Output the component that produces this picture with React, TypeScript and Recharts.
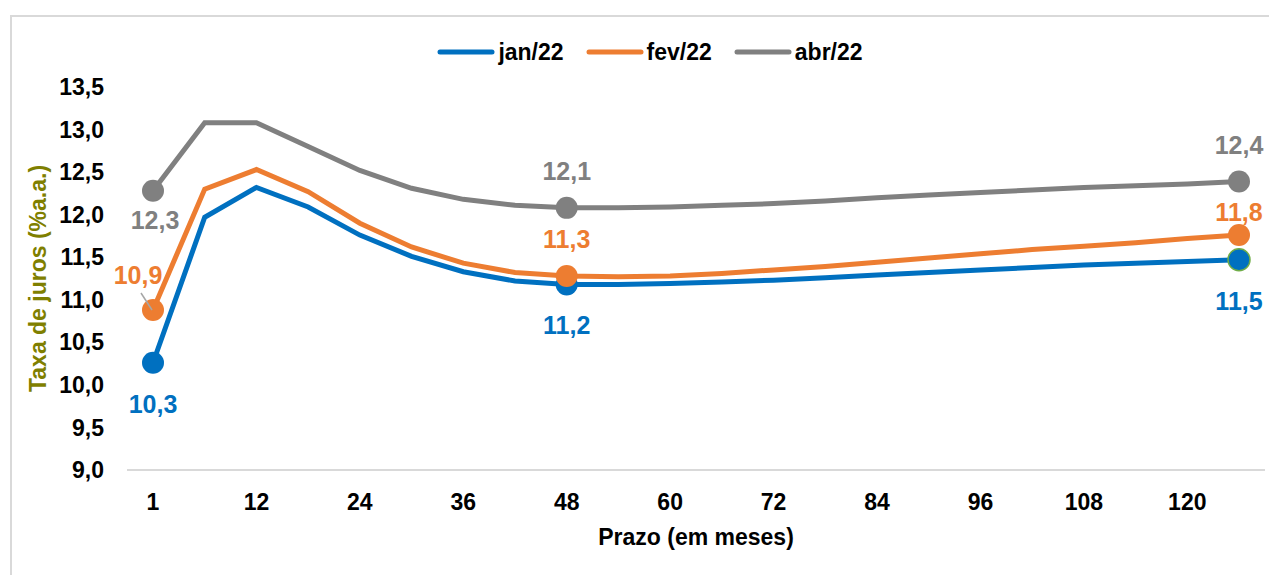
import { LineChart, Line, XAxis, YAxis, Legend, LabelList, Label } from "recharts";

// prazo em meses (um ponto a cada 6 meses, rótulo a cada 12)
const prazos = [
  "1", "6", "12", "18", "24", "30", "36", "42", "48", "54", "60",
  "66", "72", "78", "84", "90", "96", "102", "108", "114", "120", "126",
];

const jan22 = [
  10.26, 11.97, 12.32, 12.09, 11.76, 11.51, 11.33, 11.22, 11.18, 11.18, 11.19,
  11.21, 11.23, 11.26, 11.29, 11.32, 11.35, 11.38, 11.41, 11.43, 11.45, 11.47,
];
const fev22 = [
  10.88, 12.3, 12.53, 12.27, 11.9, 11.62, 11.43, 11.32, 11.28, 11.27, 11.28,
  11.31, 11.35, 11.39, 11.44, 11.49, 11.54, 11.59, 11.63, 11.67, 11.72, 11.76,
];
const abr22 = [
  12.28, 13.08, 13.08, 12.8, 12.52, 12.31, 12.18, 12.11, 12.08, 12.08, 12.09,
  12.11, 12.13, 12.16, 12.2, 12.23, 12.26, 12.29, 12.32, 12.34, 12.36, 12.39,
];

const yTicks = [9, 9.5, 10, 10.5, 11, 11.5, 12, 12.5, 13, 13.5];
const pontosDestacados = [0, 8, 21];

const AZUL = "#0070C0";
const LARANJA = "#ED7D31";
const CINZA = "#808080";
const FONTE = '"Liberation Sans", Arial, sans-serif';

const dados = prazos.map((p, i) => ({
  prazo: p,
  jan: jan22[i],
  fev: fev22[i],
  abr: abr22[i],
}));

const series = [
  { key: "jan", nome: "jan/22", cor: AZUL },
  { key: "fev", nome: "fev/22", cor: LARANJA },
  { key: "abr", nome: "abr/22", cor: CINZA },
];

// deslocamento dos rótulos (dx, dy) em relação ao ponto
const offsetsRotulos: Record<string, Record<number, [number, number]>> = {
  jan: { 0: [0, 41], 8: [0, 41], 21: [0, 41] },
  fev: { 0: [-15, -35], 8: [0, -37], 21: [0, -23] },
  abr: { 0: [2, 29], 8: [0, -37], 21: [0, -36] },
};

const fmt = (v: number) => v.toFixed(1).replace(".", ",");

const makeDot = (cor: string, serie: string) => (props: any) => {
  const { cx, cy, index } = props;
  if (!pontosDestacados.includes(index)) return <g key={`d-${serie}-${index}`} />;
  const bordaVerde = serie === "jan" && index === 21;
  return (
    <circle
      key={`d-${serie}-${index}`}
      cx={cx}
      cy={cy}
      r={11}
      fill={cor}
      stroke={bordaVerde ? "#70AD47" : cor}
      strokeWidth={bordaVerde ? 1.5 : 0}
    />
  );
};

const makeLabel = (cor: string, serie: string) => (props: any) => {
  const { x, y, value, index } = props;
  const off = offsetsRotulos[serie][index];
  if (!off) return null;
  return (
    <g key={`l-${serie}-${index}`}>
      {serie === "fev" && index === 0 && (
        <line x1={x - 12} y1={y - 17} x2={x - 1} y2={y} stroke="#A6A6A6" strokeWidth={1.5} />
      )}
      <text
        x={x + off[0]}
        y={y + off[1]}
        dy="0.36em"
        textAnchor="middle"
        fill={cor}
        fontSize={25}
        fontWeight="bold"
        fontFamily={FONTE}
      >
        {fmt(value)}
      </text>
    </g>
  );
};

const Legenda = () => (
  <div
    style={{
      display: "flex",
      justifyContent: "center",
      alignItems: "center",
      height: 30,
      paddingLeft: 22,
      fontFamily: FONTE,
      fontWeight: "bold",
      fontSize: 23,
      color: "#000",
    }}
  >
    {series.map((s) => (
      <div key={s.key} style={{ display: "flex", alignItems: "center", margin: "0 11px" }}>
        <svg width={58} height={10} style={{ marginRight: 3 }}>
          <line x1={3} y1={5} x2={55} y2={5} stroke={s.cor} strokeWidth={5} strokeLinecap="round" />
        </svg>
        <span>{s.nome}</span>
      </div>
    ))}
  </div>
);

const TituloY = (props: any) => {
  const { viewBox } = props;
  const x = viewBox.x + 30;
  const y = viewBox.y + viewBox.height / 2;
  return (
    <text
      x={x}
      y={y}
      transform={`rotate(-90, ${x}, ${y})`}
      textAnchor="middle"
      dominantBaseline="central"
      fill="#7F7F00"
      fontSize={23}
      fontWeight="bold"
      fontFamily={FONTE}
    >
      Taxa de juros (%a.a.)
    </text>
  );
};

const TituloX = (props: any) => {
  const { viewBox } = props;
  const x = viewBox.x + viewBox.width / 2;
  const y = viewBox.y + 67;
  return (
    <text
      x={x}
      y={y}
      textAnchor="middle"
      dominantBaseline="central"
      fill="#000"
      fontSize={23}
      fontWeight="bold"
      fontFamily={FONTE}
    >
      Prazo (em meses)
    </text>
  );
};

export default function App() {
  return (
    <div style={{ position: "relative", width: 1262, height: 567, overflow: "hidden", background: "#fff" }}>
      <div
        style={{
          position: "absolute",
          left: 2,
          top: 7,
          width: 1320,
          height: 620,
          border: "2px solid #D9D9D9",
          boxSizing: "border-box",
        }}
      />
      <div style={{ position: "absolute", left: 0, top: 0 }}>
        <LineChart
          width={1262}
          height={567}
          data={dados}
          margin={{ top: 49, right: 5, bottom: 25, left: 0 }}
        >
          <Legend
            verticalAlign="top"
            content={<Legenda />}
            wrapperStyle={{ top: 29, left: 0, width: 1262 }}
          />
          <XAxis
            dataKey="prazo"
            interval={1}
            height={80}
            padding={{ left: 26, right: 26 }}
            axisLine={{ stroke: "#D9D9D9", strokeWidth: 2 }}
            tickLine={false}
            tickMargin={18}
            tick={{ fontSize: 23, fontWeight: "bold", fill: "#000", fontFamily: FONTE }}
          >
            <Label content={<TituloX />} />
          </XAxis>
          <YAxis
            width={119}
            domain={[9, 13.5]}
            ticks={yTicks}
            tickFormatter={fmt}
            axisLine={false}
            tickLine={false}
            tickMargin={17}
            tick={{ fontSize: 23, fontWeight: "bold", fill: "#000", fontFamily: FONTE }}
          >
            <Label content={<TituloY />} />
          </YAxis>
          {series.map((s) => (
            <Line
              key={s.key}
              type="linear"
              dataKey={s.key}
              name={s.nome}
              stroke={s.cor}
              strokeWidth={5}
              dot={makeDot(s.cor, s.key)}
              activeDot={false}
              isAnimationActive={false}
            >
              <LabelList dataKey={s.key} content={makeLabel(s.cor, s.key)} />
            </Line>
          ))}
        </LineChart>
      </div>
    </div>
  );
}
